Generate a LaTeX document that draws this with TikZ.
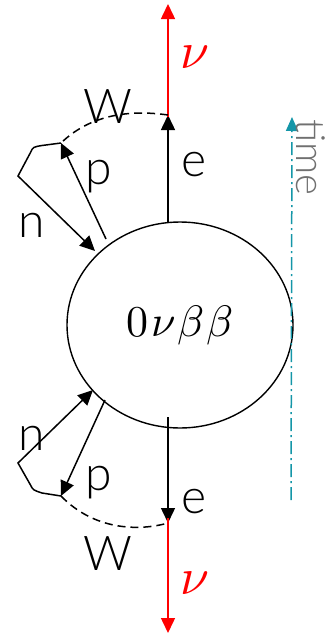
\documentclass[tikz,border=0pt]{standalone}
\usepackage{fontspec}
\usepackage{unicode-math}
\setmathfont{Latin Modern Math}
\newfontfamily\lblfont{Lato Light}
\usetikzlibrary{arrows.meta,shapes.geometric}
\definecolor{nured}{RGB}{255,0,0}
\definecolor{timeteal}{RGB}{20,150,168}
\definecolor{timegray}{RGB}{112,112,112}
\tikzset{
  lbl/.style={font=\lblfont\fontsize{48}{52}\selectfont, anchor=base, inner sep=0pt},
  nulbl/.style={font=\fontsize{52}{56}\selectfont, text=nured, anchor=base, inner sep=0pt},
  arr/.style={draw, line width=1.5pt, -{Triangle[length=15pt,width=14pt]}},
  nuarr/.style={arr, draw=nured, -{Triangle[length=15pt,width=14pt]}, fill=nured},
  wline/.style={draw, line width=1.5pt, dash pattern=on 8pt off 5pt},
  timearr/.style={draw=timeteal, line width=1.5pt, dash pattern=on 13pt off 4pt on 2pt off 4pt,
    -{Triangle[length=14pt,width=12pt]}}
}
\begin{document}
\begin{tikzpicture}[x=1pt,y=-1pt]
\useasboundingbox (0,0) rectangle (328,635);

% the decay vertex
\node[draw, ellipse, line width=1.4pt, minimum width=226pt, minimum height=206pt, inner sep=0pt]
  (decay) at (180,325) {\fontsize{44}{48}\selectfont$0\mkern1mu\nu\mkern1mu\beta\mkern1mu\beta$};

% upper branch points
\coordinate (eTopFoot) at (168,222);
\coordinate (wTop) at (168,115);
\coordinate (nuTop) at (168,4);
\coordinate (pTopTip) at (61,143);
\coordinate (pTopFoot) at (106,239);
\coordinate (nTopFar) at (18,176);
\coordinate (nTopTip) at (95,251);

% lower branch points
\coordinate (eBotFoot) at (168,417);
\coordinate (wBot) at (168,523);
\coordinate (nuBot) at (168,633);
\coordinate (pBotTip) at (61,496);
\coordinate (pBotFoot) at (105,400);
\coordinate (nBotFar) at (18,463);
\coordinate (nBotTip) at (93,390);

% time axis
\coordinate (tStart) at (291,500);
\coordinate (tEnd) at (292,117);

% upper branch
\draw[arr] (eTopFoot) -- (wTop);
\draw[nuarr] ([yshift=-2pt]wTop) -- (nuTop);
\draw[wline] (wTop) .. controls (140,111) and (95,110) .. (pTopTip);
\draw[arr] (pTopFoot) -- (pTopTip);
\draw[arr] (pTopTip) -- (42,145.5) .. controls (33,147) .. (30.5,152.5) -- (nTopFar) -- (nTopTip);

% lower branch
\draw[arr] (eBotFoot) -- (wBot);
\draw[nuarr] ([yshift=5pt]wBot) -- (nuBot);
\draw[wline] (pBotTip) .. controls (95,531) and (140,531) .. (wBot);
\draw[arr] (pBotFoot) -- (pBotTip);
\draw[arr] (pBotTip) -- (42,493) .. controls (33,490) .. (30.5,485) -- (nBotFar) -- (nBotTip);

% time axis
\draw[timearr] (tStart) -- (tEnd);
\node[lbl, font=\lblfont\fontsize{40}{44}\selectfont, text=timegray, rotate=-90, anchor=base west]
  (timeLbl) at (296,119) {time};

% labels
\node[lbl] (wTopLbl) at (108,123) {W};
\node[lbl] (eTopLbl) at (194,176) {e};
\node[lbl] (pTopLbl) at (99,184) {p};
\node[lbl] (nTopLbl) at (32,237) {n};
\node[nulbl] (nuTopLbl) at (195,68) {$\nu$};

\node[lbl] (wBotLbl) at (108,570) {W};
\node[lbl] (eBotLbl) at (194,513) {e};
\node[lbl] (pBotLbl) at (99,490) {p};
\node[lbl] (nBotLbl) at (32,450) {n};
\node[nulbl] (nuBotLbl) at (195,594) {$\nu$};
\end{tikzpicture}
\end{document}
